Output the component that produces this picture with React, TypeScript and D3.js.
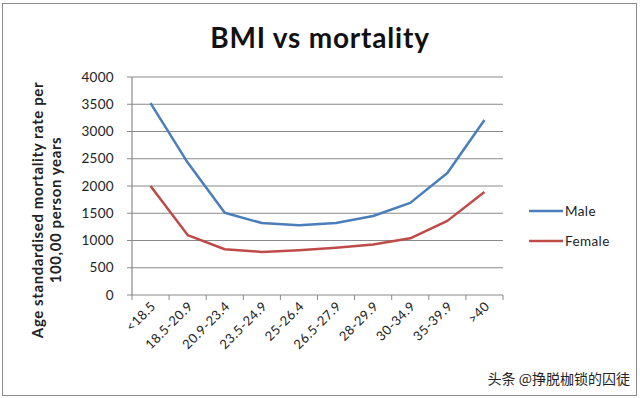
import React from "react";
import * as d3 from "d3";

const categories = ["<18.5", "18.5-20.9", "20.9-23.4", "23.5-24.9", "25-26.4", "26.5-27.9", "28-29.9", "30-34.9", "35-39.9", ">40"];
const maleValues = [3520, 2430, 1510, 1320, 1280, 1320, 1450, 1690, 2240, 3210];
const femaleValues = [2000, 1100, 840, 790, 820, 865, 925, 1040, 1360, 1890];
const yTicks = [0, 500, 1000, 1500, 2000, 2500, 3000, 3500, 4000];
const seriesNames = ["Male", "Female"];
const seriesColors = ["#4a7ebb", "#be4b48"];

const W = 640, H = 398;
const M = { left: 132, right: 503, top: 77, bottom: 295 };
const font = "Lato, 'Open Sans', sans-serif";

export default function App() {
  const x = d3.scaleBand<string>().domain(categories).range([M.left, M.right]);
  const y = d3.scaleLinear().domain([0, 4000]).range([M.bottom, M.top]);
  const line = d3.line<number>()
    .x((_, i) => (x(categories[i]) as number) + x.bandwidth() / 2)
    .y((d) => y(d));
  const series = [maleValues, femaleValues];
  return (
    <svg width={W} height={H} style={{ position: "absolute", left: 0, top: 0, background: "#fff" }}>
      <rect x={2.5} y={3.5} width={634} height={392} fill="#fff" stroke="#8c8c8c" strokeWidth={1} />
      <text x={320} y={48} textAnchor="middle" fontFamily={font} fontWeight="bold" fontSize={28} letterSpacing={0.8} fill="#111">BMI vs mortality</text>
      {yTicks.map((t) => (
        <g key={t}>
          <line x1={M.left - 5} x2={M.right} y1={y(t)} y2={y(t)} stroke="#8a8a8a" strokeWidth={1.2} />
          <text x={M.left - 18} y={y(t) + 4.5} textAnchor="end" fontFamily={font} fontSize={13.5} letterSpacing={0.3} fill="#222">{t}</text>
        </g>
      ))}
      <line x1={M.left} x2={M.left} y1={M.top} y2={M.bottom} stroke="#8a8a8a" strokeWidth={1.2} />
      {categories.map((c, i) => (
        <line key={"t" + i} x1={x(c) as number} x2={x(c) as number} y1={M.bottom} y2={M.bottom + 5} stroke="#8a8a8a" strokeWidth={1} />
      ))}
      <line x1={M.right} x2={M.right} y1={M.bottom} y2={M.bottom + 5} stroke="#8a8a8a" strokeWidth={1} />
      {categories.map((c, i) => {
        const cx = (x(c) as number) + x.bandwidth() / 2 + 6;
        const cy = M.bottom + 12;
        return (
          <text key={c} x={cx} y={cy} textAnchor="end" fontFamily={font} fontSize={13} letterSpacing={0.5} fill="#222" transform={`rotate(-45 ${cx} ${cy})`}>{c}</text>
        );
      })}
      <g transform="translate(43 210) rotate(-90)">
        <text x={0} y={0} textAnchor="middle" fontFamily={font} fontWeight="bold" fontSize={15} letterSpacing={0.6} fill="#222">Age standardised mortality rate per</text>
        <text x={0} y={18} textAnchor="middle" fontFamily={font} fontWeight="bold" fontSize={15} letterSpacing={0.6} fill="#222">100,00 person years</text>
      </g>
      {series.map((s, i) => (
        <path key={i} d={line(s) || ""} fill="none" stroke={seriesColors[i]} strokeWidth={2.5} strokeLinejoin="round" />
      ))}
      {seriesNames.map((n, i) => (
        <g key={n}>
          <line x1={529} x2={563} y1={211 + i * 30} y2={211 + i * 30} stroke={seriesColors[i]} strokeWidth={2.5} />
          <text x={565} y={215.5 + i * 30} fontFamily={font} fontSize={13.5} letterSpacing={0.4} fill="#222">{n}</text>
        </g>
      ))}
      <text x={630} y={384} textAnchor="end" fontFamily="'Noto Sans CJK SC', sans-serif" fontSize={14} fill="#222">头条 @挣脱枷锁的囚徒</text>
    </svg>
  );
}
